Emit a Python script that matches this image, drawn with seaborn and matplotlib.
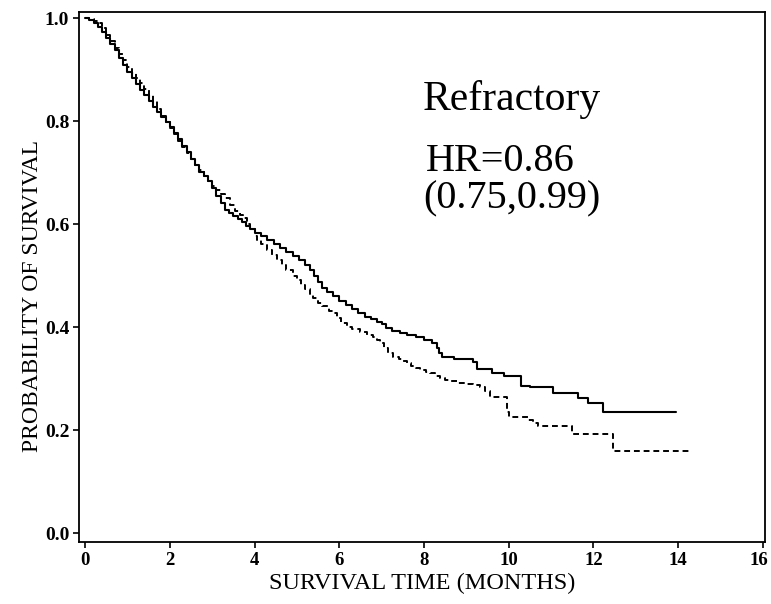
import matplotlib
matplotlib.use("Agg")
import matplotlib.pyplot as plt
import matplotlib.transforms as mtransforms
import seaborn as sns

# Kaplan-Meier estimates (months, survival probability)
solid_time = [0.0, 0.1, 0.2, 0.3, 0.4, 0.5, 0.6, 0.7, 0.8, 0.9, 1.0, 1.1, 1.2, 1.3, 1.4,
              1.5, 1.6, 1.7, 1.8, 1.9, 2.0, 2.1, 2.2, 2.3, 2.4, 2.5, 2.6, 2.7, 2.8, 2.9,
              3.0, 3.1, 3.2, 3.3, 3.4, 3.5, 3.6, 3.7, 3.8, 3.9, 4.0, 4.15, 4.3, 4.45,
              4.6, 4.75, 4.9, 5.05, 5.2, 5.3, 5.4, 5.5, 5.6, 5.7, 5.85, 6.0, 6.15, 6.3,
              6.45, 6.6, 6.75, 6.9, 7.0, 7.1, 7.25, 7.43, 7.6, 7.8, 8.0, 8.2, 8.3, 8.35,
              8.42, 8.7, 9.15, 9.24, 9.6, 9.9, 10.3, 10.5, 11.04, 11.63, 11.87, 12.22,
              13.94]
solid_surv = [1.0, 0.997, 0.99, 0.982, 0.972, 0.962, 0.95, 0.937, 0.922, 0.908, 0.895,
              0.883, 0.872, 0.861, 0.85, 0.839, 0.828, 0.818, 0.808, 0.798, 0.788, 0.776,
              0.765, 0.752, 0.74, 0.727, 0.714, 0.702, 0.693, 0.683, 0.67, 0.655, 0.64,
              0.628, 0.622, 0.616, 0.61, 0.604, 0.597, 0.59, 0.583, 0.576, 0.569, 0.561,
              0.553, 0.546, 0.538, 0.53, 0.52, 0.51, 0.5, 0.487, 0.475, 0.468, 0.46,
              0.45, 0.442, 0.435, 0.428, 0.42, 0.415, 0.41, 0.405, 0.398, 0.393, 0.388,
              0.384, 0.38, 0.375, 0.369, 0.36, 0.35, 0.342, 0.338, 0.332, 0.318, 0.31,
              0.305, 0.285, 0.283, 0.272, 0.262, 0.252, 0.235, 0.235]

dashed_time = [0.0, 0.1, 0.2, 0.3, 0.4, 0.5, 0.6, 0.7, 0.8, 0.9, 1.0, 1.1, 1.2, 1.3, 1.4,
               1.5, 1.6, 1.7, 1.8, 1.9, 2.0, 2.1, 2.2, 2.3, 2.4, 2.5, 2.6, 2.7, 2.8, 2.9,
               3.0, 3.1, 3.2, 3.3, 3.42, 3.55, 3.65, 3.73, 3.82, 3.9, 4.0, 4.05, 4.15,
               4.3, 4.42, 4.53, 4.65, 4.75, 4.9, 5.0, 5.1, 5.2, 5.3, 5.38, 5.5, 5.6,
               5.75, 5.85, 5.95, 6.05, 6.18, 6.3, 6.5, 6.65, 6.79, 6.9, 6.96, 7.05, 7.15,
               7.27, 7.4, 7.5, 7.6, 7.7, 7.8, 7.9, 8.05, 8.15, 8.27, 8.37, 8.5, 8.6, 8.8,
               9.0, 9.15, 9.32, 9.45, 9.55, 9.95, 10.0, 10.45, 10.57, 10.7, 11.49, 12.45,
               14.27]
dashed_surv = [1.0, 0.998, 0.995, 0.99, 0.98, 0.967, 0.955, 0.942, 0.93, 0.918, 0.905,
               0.893, 0.884, 0.874, 0.862, 0.85, 0.838, 0.824, 0.81, 0.798, 0.786, 0.774,
               0.762, 0.75, 0.738, 0.726, 0.715, 0.705, 0.694, 0.683, 0.674, 0.666, 0.658,
               0.65, 0.637, 0.626, 0.618, 0.611, 0.6, 0.59, 0.577, 0.569, 0.561, 0.55,
               0.54, 0.53, 0.52, 0.51, 0.5, 0.491, 0.482, 0.473, 0.464, 0.456, 0.447,
               0.44, 0.432, 0.427, 0.418, 0.408, 0.40, 0.396, 0.39, 0.385, 0.38, 0.374,
               0.369, 0.36, 0.35, 0.342, 0.338, 0.335, 0.33, 0.325, 0.321, 0.317, 0.313,
               0.31, 0.305, 0.301, 0.298, 0.295, 0.292, 0.29, 0.287, 0.283, 0.275, 0.264,
               0.235, 0.225, 0.22, 0.213, 0.208, 0.192, 0.159, 0.159]

x_ticks = [0, 2, 4, 6, 8, 10, 12, 14, 16]
y_ticks = [0.0, 0.2, 0.4, 0.6, 0.8, 1.0]
annot_lines = ["Refractory", "HR=0.86", "(0.75,0.99)"]

sns.set_theme(style="ticks")
plt.rcParams["font.family"] = ["Liberation Serif", "DejaVu Serif"]
plt.rcParams["text.color"] = "black"
plt.rcParams["axes.labelcolor"] = "black"
plt.rcParams["xtick.color"] = "black"
plt.rcParams["ytick.color"] = "black"

fig = plt.figure(figsize=(7.71, 6.04), dpi=100)
ax = fig.add_axes([0.1025, 0.1026, 0.8898, 0.8775])

sns.lineplot(x=solid_time, y=solid_surv, ax=ax, color="black", linewidth=1.5,
             drawstyle="steps-post", estimator=None, sort=False)
sns.lineplot(x=dashed_time, y=dashed_surv, ax=ax, color="black", linewidth=1.4,
             drawstyle="steps-post", estimator=None, sort=False, dashes=False,
             linestyle=(0, (3, 2)))

ax.set_xlim(-0.142, 16.05)
ax.set_ylim(-0.0175, 1.0117)
ax.set_xticks(x_ticks)
ax.set_yticks(y_ticks)
ax.set_xticklabels([str(t) for t in x_ticks], fontsize=13.5, fontweight="bold")
ax.set_yticklabels([f"{t:.1f}" for t in y_ticks], fontsize=14, fontweight="bold")
ax.tick_params(direction="out", length=4, width=1.2, colors="black", pad=3)

# keep the last x label ("16") inside the canvas
last_lbl = ax.get_xticklabels()[-1]
last_lbl.set_transform(last_lbl.get_transform() +
                       mtransforms.ScaledTranslation(-3 / 72, 0, fig.dpi_scale_trans))

for side in ["left", "right", "top", "bottom"]:
    ax.spines[side].set_visible(True)
    ax.spines[side].set_linewidth(1.3)
    ax.spines[side].set_color("black")

ax.set_xlabel("SURVIVAL TIME (MONTHS)", fontsize=17.5, labelpad=3)
ax.set_ylabel("PROBABILITY OF SURVIVAL", fontsize=17)
ax.yaxis.set_label_coords(-0.053, 0.464)

# annotation block
ax.text(7.98, 0.821, annot_lines[0], fontsize=30, ha="left", va="baseline")
ax.text(8.05, 0.703, annot_lines[1], fontsize=29, ha="left", va="baseline")
ax.text(7.98, 0.630, annot_lines[2], fontsize=29, ha="left", va="baseline")

fig.savefig("out.png", dpi=100, facecolor="white")
